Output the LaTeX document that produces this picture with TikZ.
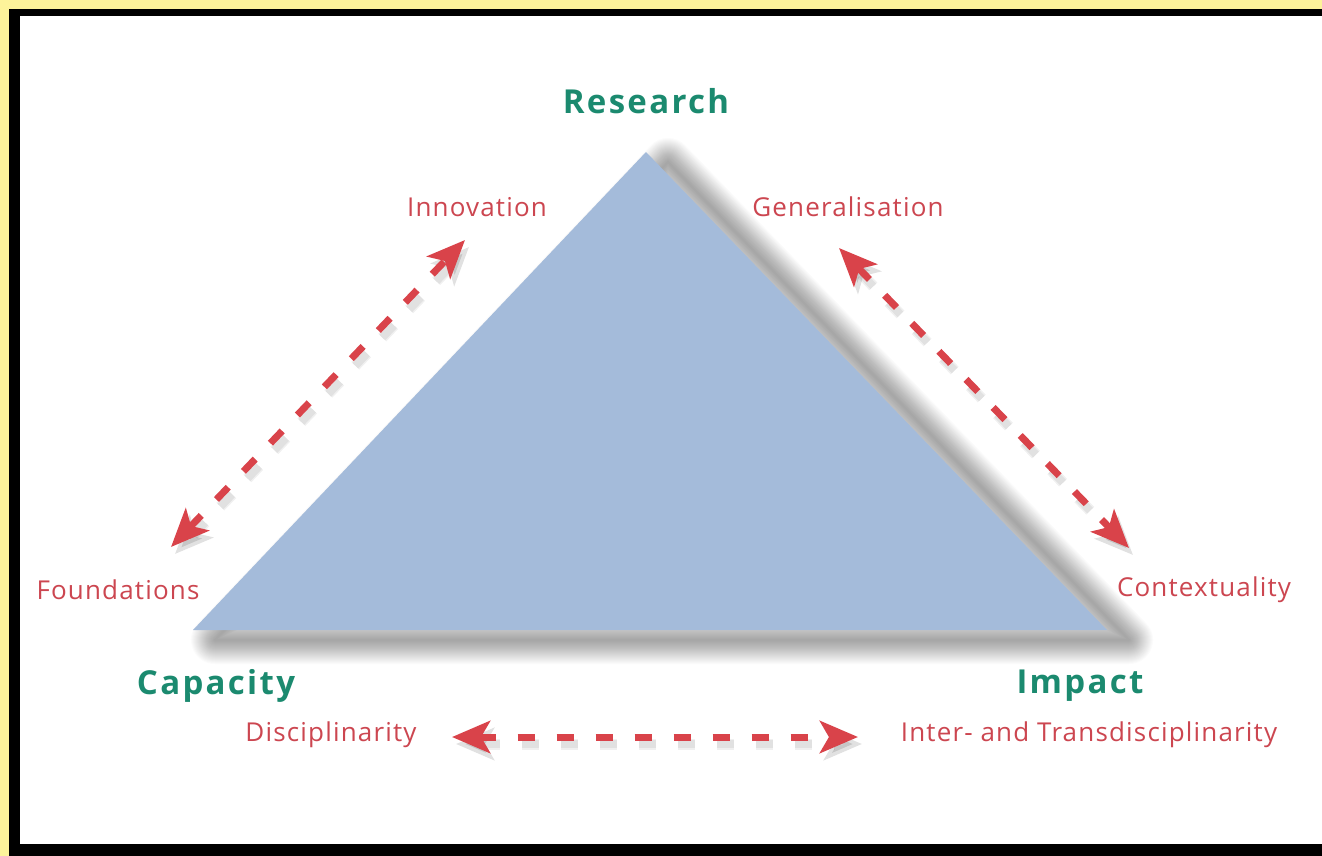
\documentclass[tikz,border=0pt]{standalone}
\usepackage{fontspec}
\setmainfont{Open Sans}
\usetikzlibrary{arrows.meta}
\definecolor{frameyellow}{HTML}{FDF39A}
\definecolor{triblue}{HTML}{A4BBDA}
\definecolor{teal}{HTML}{1B8A6F}
\definecolor{redtext}{HTML}{CC4650}
\definecolor{redarrow}{HTML}{D9434A}
\tikzset{
  headlabel/.style={text=teal, font=\fontsize{33}{35}\selectfont\bfseries\addfontfeatures{LetterSpace=7}, inner sep=0pt},
  sublabel/.style={text=redtext, font=\fontsize{26}{28}\selectfont\addfontfeatures{LetterSpace=4.5}, inner sep=0pt},
  dblarrow/.style={draw=redarrow, line width=7pt, dash pattern=on 17pt off 22pt,
    {Stealth[length=38pt,width=32pt,inset=9pt]}-{Stealth[length=38pt,width=32pt,inset=9pt]}},
  arrowshadow/.style={draw=black, line width=#1, dash pattern=on 17pt off 22pt, line join=round,
    {Stealth[length=38pt,width=32pt,inset=9pt]}-{Stealth[length=38pt,width=32pt,inset=9pt]}},
  softshadow/.style={draw=black, opacity=0.017, line join=round},
}
\begin{document}
\begin{tikzpicture}[x=1pt,y=-1pt]
\useasboundingbox (0,0) rectangle (1322,856);
\fill[frameyellow] (0,0) rectangle (1322,856);
\fill[black] (9,9) rectangle (1322,856);
\fill[white] (20,16) rectangle (1322,844);

% triangle corners
\coordinate (top) at (646,152);
\coordinate (br) at (1107,630);
\coordinate (bl) at (193,630);

% soft shadow
\begin{scope}[transform canvas={xshift=22pt,yshift=-10pt}]
\foreach \w in {48,46,...,2}{
  \draw[softshadow, line width=\w pt] (top) -- (br) -- (bl) -- cycle;
}
\end{scope}
% triangle
\fill[triblue] (top) -- (br) -- (bl) -- cycle;

% labels
\node[headlabel] (research) at (646,101) {Research};
\node[headlabel] (capacity) at (216,686) {Capacity};
\node[headlabel] (impact) at (1080,686) {Impact};

\node[sublabel] (innovation) at (477,207) {Innovation};
\node[sublabel] (general) at (848,207) {Generalisation};
\node[sublabel] (found) at (118,590) {Foundations};
\node[sublabel] (context) at (1204,590) {Contextuality};
\node[sublabel] (discip) at (331,735) {Disciplinarity};
\node[sublabel] (inter) at (1089,735) {Inter- and Transdisciplinarity};

% arrow end points
\coordinate (la) at (171,547);
\coordinate (lb) at (465,240);
\coordinate (ra) at (839,248);
\coordinate (rb) at (1129,548);
\coordinate (ba) at (452,737);
\coordinate (bb) at (858,737);

\begin{scope}[transform canvas={xshift=4pt,yshift=-7pt}, opacity=0.06]
\foreach \lw in {11pt,8pt}{
\draw[arrowshadow=\lw] (la) -- (lb);
\draw[arrowshadow=\lw] (ra) -- (rb);
\draw[arrowshadow=\lw] (ba) -- (bb);
}
\end{scope}
\draw[dblarrow] (la) -- (lb);
\draw[dblarrow] (ra) -- (rb);
\draw[dblarrow] (ba) -- (bb);
\end{tikzpicture}
\end{document}
